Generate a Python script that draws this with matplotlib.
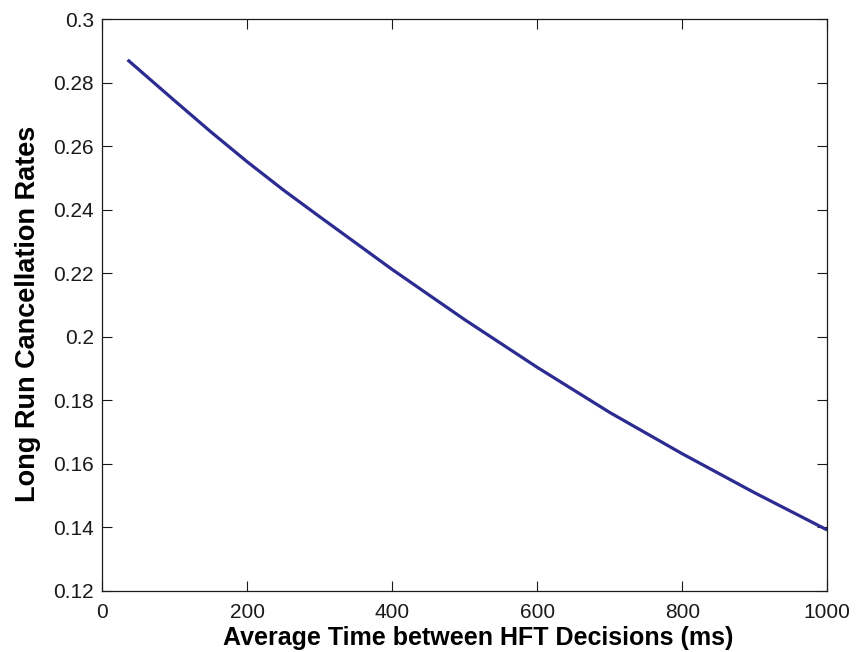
import matplotlib
matplotlib.use("Agg")
from matplotlib import pyplot as plt

# values
time_ms = [35, 100, 150, 200, 250, 300, 400, 500, 600, 700, 800, 900, 1000]
cancel_rate = [0.2872, 0.2743, 0.2645, 0.2551, 0.2462, 0.2378, 0.2212, 0.2054, 0.1904,
               0.1762, 0.1632, 0.1509, 0.1392]

x_ticks = [0, 200, 400, 600, 800, 1000]
y_ticks = [0.12, 0.14, 0.16, 0.18, 0.2, 0.22, 0.24, 0.26, 0.28, 0.3]
y_labels = ["0.12", "0.14", "0.16", "0.18", "0.2", "0.22", "0.24", "0.26", "0.28", "0.3"]

plt.rcParams['font.family'] = ['Liberation Sans', 'DejaVu Sans']

fig = plt.figure(figsize=(8.59, 6.52), dpi=100)
ax = fig.add_axes([0.119, 0.0936, 0.844, 0.877])

ax.plot(time_ms, cancel_rate, color='#2b2b91', linewidth=2.3, solid_capstyle='butt',
        solid_joinstyle='round')

ax.set_xlim(0, 1000)
ax.set_ylim(0.12, 0.3)
ax.set_xticks(x_ticks)
ax.set_yticks(y_ticks)
ax.set_yticklabels(y_labels)
ax.tick_params(direction='in', top=True, right=True, length=7, width=0.8,
               labelsize=15, colors='#1a1a1a')
ax.tick_params(axis='x', pad=9)
ax.tick_params(axis='y', pad=6)
for s in ax.spines.values():
    s.set_linewidth(0.9)
    s.set_color('#1a1a1a')

ax.set_xlabel("Average Time between HFT Decisions (ms)", fontsize=18,
              fontweight='bold')
ax.set_ylabel("Long Run Cancellation Rates", fontsize=19.5, fontweight='bold')
ax.xaxis.set_label_coords(0.518, -0.062, transform=ax.transAxes)
ax.xaxis.label.set_va('top')
ax.yaxis.set_label_coords(-0.103, 0.485, transform=ax.transAxes)
ax.yaxis.label.set_va('center')

fig.savefig("out.png", dpi=100)
